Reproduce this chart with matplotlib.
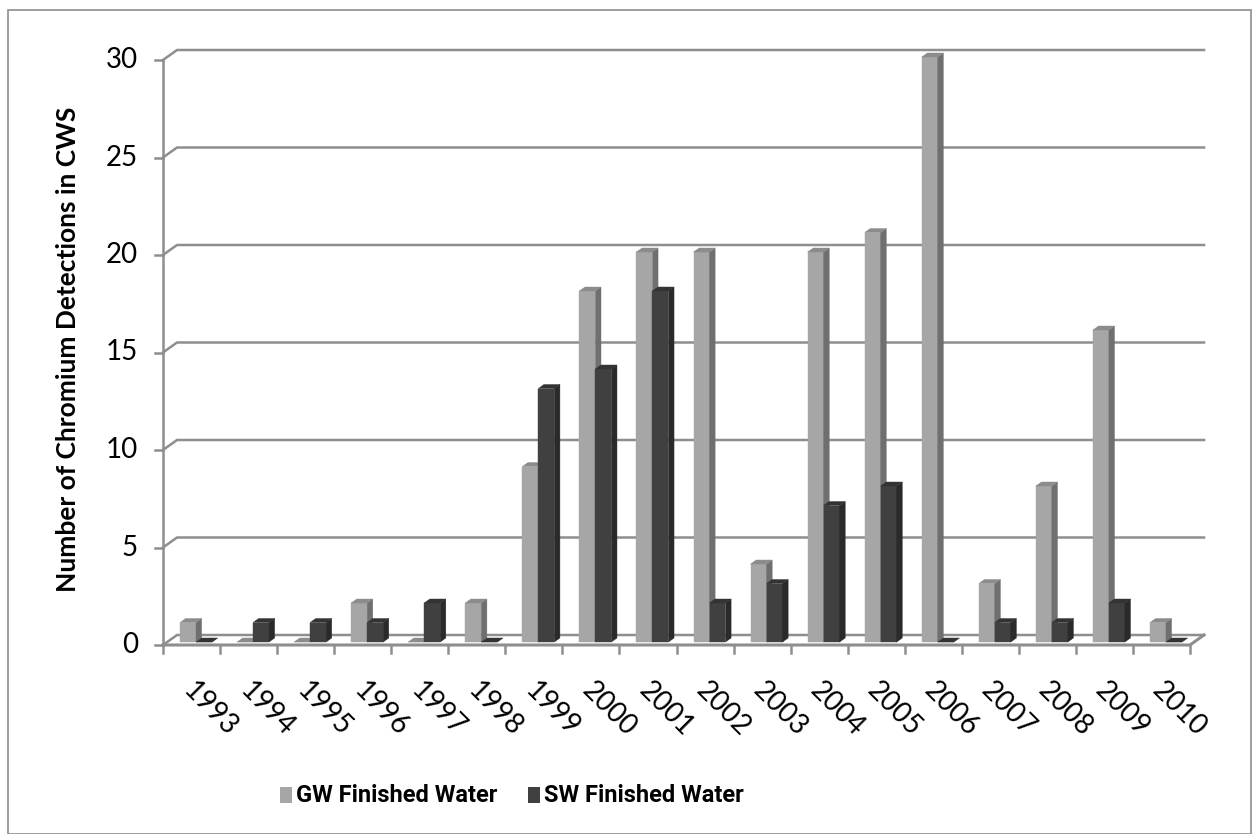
import matplotlib
matplotlib.use("Agg")
import matplotlib.pyplot as plt
from matplotlib.patches import Polygon, Rectangle
from matplotlib.lines import Line2D

years = [str(y) for y in range(1993, 2011)]
gw_finished = [1, 0, 0, 2, 0, 2, 9, 18, 20, 20, 4, 20, 21, 30, 3, 8, 16, 1]
sw_finished = [0, 1, 1, 1, 2, 0, 13, 14, 18, 2, 3, 7, 8, 0, 1, 1, 2, 0]
series_names = ["GW Finished Water", "SW Finished Water"]
yticks = [0, 5, 10, 15, 20, 25, 30]
ylabel = "Number of Chromium Detections in CWS"

# face colours for front / side / top of the fake 3d bars
gw_cols = ("#a6a6a6", "#6f6f6f", "#8c8c8c")
sw_cols = ("#404040", "#2a2a2a", "#333333")
grid_col = "#8e8e8e"

W, H = 1253, 834
fig = plt.figure(figsize=(W / 100, H / 100), dpi=100)
fig.patches.append(Rectangle((8 / W, 0), (W - 10) / W, 1 - 10 / H, transform=fig.transFigure,
                             fill=False, edgecolor=grid_col, linewidth=1.2))

# front plot box in pixels
x0, x1, yb, yt = 163, 1190, 645, 60
ax = fig.add_axes([x0 / W, 1 - yb / H, (x1 - x0) / W, (yb - yt) / H])
n = len(years)
ymax = yticks[-1]
ax.set_xlim(0, n)
ax.set_ylim(0, ymax)
ax.axis("off")

px_x = n / (x1 - x0)
px_y = ymax / (yb - yt)
DX, DY = 14 * px_x, 10 * px_y  # depth of the box

lw = 1.8
# back wall gridlines + side diagonal
for v in yticks:
    ax.add_line(Line2D([0, DX, n + DX], [v, v + DY, v + DY], color=grid_col, lw=lw,
                       clip_on=False, zorder=1))
    ax.add_line(Line2D([0, -8 * px_x], [v, v], color=grid_col, lw=lw, clip_on=False))
    ax.text(-25 * px_x, v, str(v), ha="right", va="center", fontsize=20,
            family="Lato", color="black")

# front axis and floor
ax.add_line(Line2D([0, 0], [0, ymax], color=grid_col, lw=lw, clip_on=False, zorder=1))
ax.add_line(Line2D([0, n, n + DX], [0, 0, DY], color=grid_col, lw=2.2, clip_on=False, zorder=1))
for i in range(n + 1):
    ax.add_line(Line2D([i, i], [0, -8 * px_y], color=grid_col, lw=lw, clip_on=False))


def bar3d(left, width, h, cols):
    bx, by = left + 0.3 * DX, 0.3 * DY
    ddx, ddy = 0.4 * DX, 0.4 * DY
    front, side, top = cols
    ax.add_patch(Rectangle((bx, by), width, h, facecolor=front, edgecolor=front,
                           lw=0.3, clip_on=False, zorder=3))
    ax.add_patch(Polygon([(bx + width, by), (bx + width + ddx, by + ddy),
                          (bx + width + ddx, by + h + ddy), (bx + width, by + h)],
                         facecolor=side, edgecolor=side, lw=0.3, clip_on=False, zorder=3))
    ax.add_patch(Polygon([(bx, by + h), (bx + ddx, by + h + ddy),
                          (bx + width + ddx, by + h + ddy), (bx + width, by + h)],
                         facecolor=top, edgecolor=top, lw=0.3, clip_on=False, zorder=3))


bw = 0.28
for i in range(n):
    bar3d(i + 0.225, bw, gw_finished[i], gw_cols)
    bar3d(i + 0.225 + bw, bw, sw_finished[i], sw_cols)
    ax.text(i + 0.58, -32 * px_y, years[i], rotation=-45, rotation_mode="anchor",
            ha="left", va="top", fontsize=20, family="Lato")

fig.text(68 / W, 1 - 349 / H, ylabel, rotation=90, ha="center", va="center",
         fontsize=19, fontweight="bold", family="Lato")

# legend
for x_sq, name, cols in [(280, series_names[0], gw_cols), (528, series_names[1], sw_cols)]:
    fig.patches.append(Rectangle((x_sq / W, 1 - 803 / H), 12 / W, 16 / H,
                                 transform=fig.transFigure, facecolor=cols[0], edgecolor="none"))
    fig.text((x_sq + 16) / W, 1 - 796 / H, name, ha="left", va="center",
             fontsize=17, fontweight="bold", family="Roboto")

fig.savefig("out.png", dpi=100, facecolor="white")
